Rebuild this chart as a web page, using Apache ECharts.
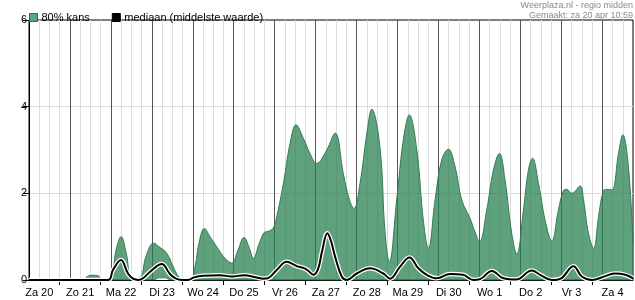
<!DOCTYPE html>
<html>
<head>
<meta charset="utf-8">
<script src="https://cdn.jsdelivr.net/npm/echarts@6/dist/echarts.min.js"></script>
<style>html,body{margin:0;padding:0;background:#fff;}#c{width:635px;height:300px;}</style>
</head>
<body>
<div id="c"></div>
<script>
// Day labels (placed at noon of each day); hours counted from Za 20 00:00
const dayLabels = ['Za 20','Zo 21','Ma 22','Di 23','Wo 24','Do 25','Vr 26','Za 27','Zo 28','Ma 29','Di 30','Wo 1','Do 2','Vr 3','Za 4'];
const yTicks = [0, 2, 4, 6];
const legendNames = ['80% kans', 'mediaan (middelste waarde)'];
const sourceText = 'Weerplaza.nl - regio midden';
const madeText = 'Gemaakt: za 20 apr 10:59';

// 80% band upper bound [hour, mm]
const upperBand = [[6,0],[38,0],[40,0.08],[43,0.11],[46.5,0.1],[48.5,0],[53.5,0],[57,0.69],[60,1.0],[63,0.62],[66.3,0.03],[71,0.05],[74.6,0.55],[79,0.85],[82.8,0.75],[86.7,0.62],[90.6,0.3],[93.3,0.1],[95.7,0],[100.4,0],[103.3,0.31],[105.6,0.85],[108.8,1.19],[112.1,1.0],[116,0.77],[120.9,0.5],[124.8,0.39],[128.5,0.69],[132,0.98],[135.2,0.73],[137.5,0.5],[141,0.85],[144,1.1],[146,1.12],[149.2,1.2],[151.2,1.46],[155.1,2.23],[159,3.15],[162.5,3.58],[166.8,3.27],[170.7,2.92],[174.6,2.69],[180.5,3.0],[185.4,3.39],[190.2,2.46],[193.8,1.85],[196.5,1.65],[200,2.23],[204,3.38],[206.9,3.94],[211.7,3.06],[214.7,1.08],[217.2,0.42],[221.5,1.85],[225.4,3.23],[228.9,3.81],[233.3,3.0],[237.1,1.38],[240.1,0.73],[244,1.85],[247.9,2.77],[251.8,3.02],[255.7,2.62],[259.6,1.85],[264.5,1.42],[267.4,1.11],[270,0.88],[274.3,1.62],[278.2,2.54],[281.7,2.92],[285,2.31],[288.9,1.08],[291.9,0.6],[295.8,1.62],[298.7,2.54],[301.1,2.81],[304.6,2.23],[308.5,1.38],[312.4,0.9],[316.3,1.62],[319.2,2.06],[321.2,2.09],[324.2,2.0],[329,2.17],[331,1.85],[333.9,1.08],[336.9,0.73],[339.8,1.46],[342.6,2.06],[344.6,2.09],[347.6,2.08],[351.5,2.92],[354,3.35],[357.3,2.62],[360,0.85]];

// 80% band lower bound [hour, mm]
const lowerBand = [[6,0],[79,0],[82,0.05],[86,0.05],[89,0],[360,0]];

// median [hour, mm]
const median = [[6,0],[52.3,0],[55.2,0.23],[59.9,0.46],[64,0.15],[67,0.03],[70,0],[72.8,0.04],[77,0.19],[83.8,0.37],[88.6,0.14],[92.2,0.03],[95.7,0],[99.2,0],[102.7,0.06],[108,0.1],[118,0.11],[125,0.08],[132,0.11],[139.3,0.06],[143.3,0.03],[146,0.04],[151.2,0.23],[157,0.42],[162.9,0.32],[166.8,0.28],[169.5,0.22],[172.6,0.12],[175.4,0.25],[177.7,0.65],[180.9,1.08],[183,0.9],[185.4,0.54],[189.3,0.08],[192.2,0],[198.1,0.15],[205.9,0.27],[213.7,0.15],[217.6,0.03],[223.5,0.31],[229,0.52],[234.2,0.27],[239.1,0.12],[245,0.04],[252.8,0.14],[260.4,0.12],[266.4,0],[270.4,0.02],[277.2,0.21],[284,0.04],[291.5,0.01],[300.7,0.22],[305.6,0.12],[312.4,0],[317.9,0.04],[325.1,0.32],[330,0.08],[335.9,0],[343.7,0.09],[349.6,0.15],[355.5,0.12],[360,0.04]];

const noonHours = dayLabels.map((d, i) => 12 + 24 * i);
const midnightHours = dayLabels.slice(1).map((d, i) => 24 * (i + 1));

const FONT = 'Liberation Sans, Arial, sans-serif';
const chart = echarts.init(document.getElementById('c'), null, {renderer: 'canvas'});
chart.setOption({
  animation: false,
  backgroundColor: '#fff',
  grid: {left: 29, right: 2, top: 20, bottom: 20, show: true, borderColor: '#000', borderWidth: 1, backgroundColor: 'transparent'},
  legend: {
    left: 24, top: 7, itemWidth: 8, itemHeight: 8, itemGap: 22, icon: 'rect',
    textStyle: {fontFamily: FONT, fontSize: 11, color: '#000', padding: [0,0,0,-1]},
    data: [
      {name: legendNames[0], itemStyle: {color: '#62a27e', borderColor: '#2e6b48', borderWidth: 1}},
      {name: legendNames[1], itemStyle: {color: '#000', borderColor: '#000', borderWidth: 1}}
    ]
  },
  graphic: [{
    type: 'text', right: 2, top: 1,
    style: {text: sourceText + '\n' + madeText, fill: '#8a8a8a', font: '9px ' + FONT, textAlign: 'right', lineHeight: 10}
  }],
  xAxis: [{
    type: 'value', min: 6, max: 360, interval: 6,
    axisLine: {show: true, onZero: false, lineStyle: {color: '#000', width: 1}},
    axisTick: {show: false},
    axisLabel: {
      customValues: noonHours, margin: 7, color: '#000', fontFamily: FONT, fontSize: 11,
      formatter: v => dayLabels[Math.round((v - 12) / 24)] || ''
    },
    splitLine: {show: true, showMinLine: false, showMaxLine: false, lineStyle: {color: ['#dcdcdc','#dcdcdc','#dcdcdc','#555555'], width: 1}}
  }, {
    type: 'value', min: 6, max: 360, position: 'bottom', interval: 6,
    axisLine: {show: false},
    axisTick: {show: true, length: 5, customValues: midnightHours, lineStyle: {color: '#000'}},
    axisLabel: {show: false},
    splitLine: {show: false}
  }],
  yAxis: {
    type: 'value', min: yTicks[0], max: yTicks[yTicks.length - 1], interval: 2,
    axisLine: {show: true, lineStyle: {color: '#000', width: 1}},
    axisTick: {show: true, length: 6, lineStyle: {color: '#000'}},
    axisLabel: {margin: 2, color: '#000', fontFamily: FONT, fontSize: 11},
    splitLine: {show: true, showMinLine: false, showMaxLine: false, lineStyle: {color: '#dcdcdc', width: 1}}
  },
  series: [
    {
      name: legendNames[0], type: 'line', data: upperBand, smooth: 0.4, showSymbol: false, z: 2,
      lineStyle: {color: '#2e7d52', width: 1},
      itemStyle: {color: '#62a27e'},
      areaStyle: {color: 'rgba(40,128,80,0.74)', opacity: 1, origin: 'start'}
    },
    {
      name: 'lower', type: 'line', data: lowerBand, smooth: 0.4, showSymbol: false, z: 3,
      lineStyle: {color: '#2e7d52', width: 1},
      areaStyle: {color: '#ffffff', opacity: 1, origin: 'start'}
    },
    {
      name: 'halo', type: 'line', data: median, smooth: 0.4, showSymbol: false, z: 4,
      lineStyle: {color: '#ffffff', width: 4.5}
    },
    {
      name: legendNames[1], type: 'line', data: median, smooth: 0.4, showSymbol: false, z: 5,
      lineStyle: {color: '#000000', width: 2}, itemStyle: {color: '#000'}
    }
  ]
});
</script>
</body>
</html>
